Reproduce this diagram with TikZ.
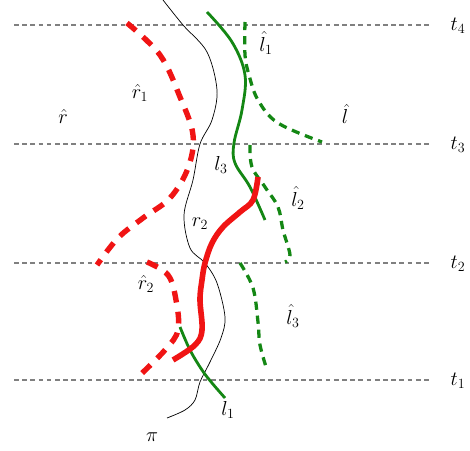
\documentclass[tikz,border=0pt]{standalone}
\usepackage{tikz}
\usepackage{amsmath}
\usetikzlibrary{positioning}
\definecolor{PathRed}{RGB}{240,20,20}
\definecolor{PathGreen}{RGB}{20,135,20}

\begin{document}
\begin{tikzpicture}[x=0.03cm,y=-0.03cm,font=\LARGE,inner sep=1pt,
  timeline/.style={gray,line width=0.9pt,dash pattern=on 4pt off 3pt},
  redpath/.style={PathRed,line width=4.8pt},
  redguess/.style={PathRed,line width=4.6pt,dash pattern=on 10pt off 8pt},
  greenpath/.style={PathGreen,line width=2.4pt},
  greenguess/.style={PathGreen,line width=2.8pt,dash pattern=on 7pt off 5pt}]
\useasboundingbox (0,0) rectangle (470,451);
% time levels
\foreach \yy/\k in {25/4,144/3,263/2,380/1}{
  \coordinate (a\k) at (14,\yy);
  \node (t\k) at (458,\yy+1) {$t_{\k}$};
  \draw[timeline] (a\k) -- ++(418,0);
}
% true path
\draw[black,line width=0.6pt] plot[smooth,tension=0.55] coordinates {(163,0) (183,25) (207,52) (217,90) (212,120) (200,144) (193,180) (184,215) (190,248) (205,263) (217,283) (225,317) (221,338) (210,362) (200,382) (195,400) (185,410) (167,418)};
% estimates
\draw[redguess] plot[smooth,tension=0.6] coordinates {(127,23) (160,55) (180,97) (193,135) (188,168) (170,198) (143,218) (118,238) (97,265)};
\draw[redguess] plot[smooth,tension=0.6] coordinates {(147,262) (168,275) (176,300) (178,330) (165,350) (138,377)};
\draw[greenguess] plot[smooth,tension=0.6] coordinates {(245,22) (245,55) (249,75) (258,100) (278,123) (322,142)};
\draw[greenguess] plot[smooth,tension=0.6] coordinates {(250,145) (252,167) (265,187) (278,207) (283,230) (290,255) (285,262)};
\draw[greenguess] plot[smooth,tension=0.6] coordinates {(240,263) (253,288) (258,322) (260,345) (267,370)};
% bounds
\draw[greenpath] plot[smooth,tension=0.6] coordinates {(207,12) (232,42) (245,75) (242,110) (234,143) (235,163) (250,187) (265,220)};
\draw[greenpath] plot[smooth,tension=0.6] coordinates {(180,327) (190,350) (202,370) (212,383) (225,398)};
\draw[redpath] plot[smooth,tension=0.6] coordinates {(258,177) (253,200) (240,212) (223,227) (212,243) (205,263) (202,280) (200,300) (202,330) (195,345) (173,360)};
% labels
\node (rh1) at (140,93) {$\hat{r}_1$};
\node (rh) at (63,116) {$\hat{r}$};
\node (l3) at (221,165) {$l_3$};
\node (r2) at (200,224) {$r_2$};
\node (rh2) at (146,284) {$\hat{r}_2$};
\node (lh1) at (266,43) {$\hat{l}_1$};
\node (lh) at (345,114) {$\hat{l}$};
\node (lh2) at (298,198) {$\hat{l}_2$};
\node (lh3) at (293,316) {$\hat{l}_3$};
\node (l1) at (228,410) {$l_1$};
\node (pi) at (152,437) {$\pi$};
\end{tikzpicture}
\end{document}
